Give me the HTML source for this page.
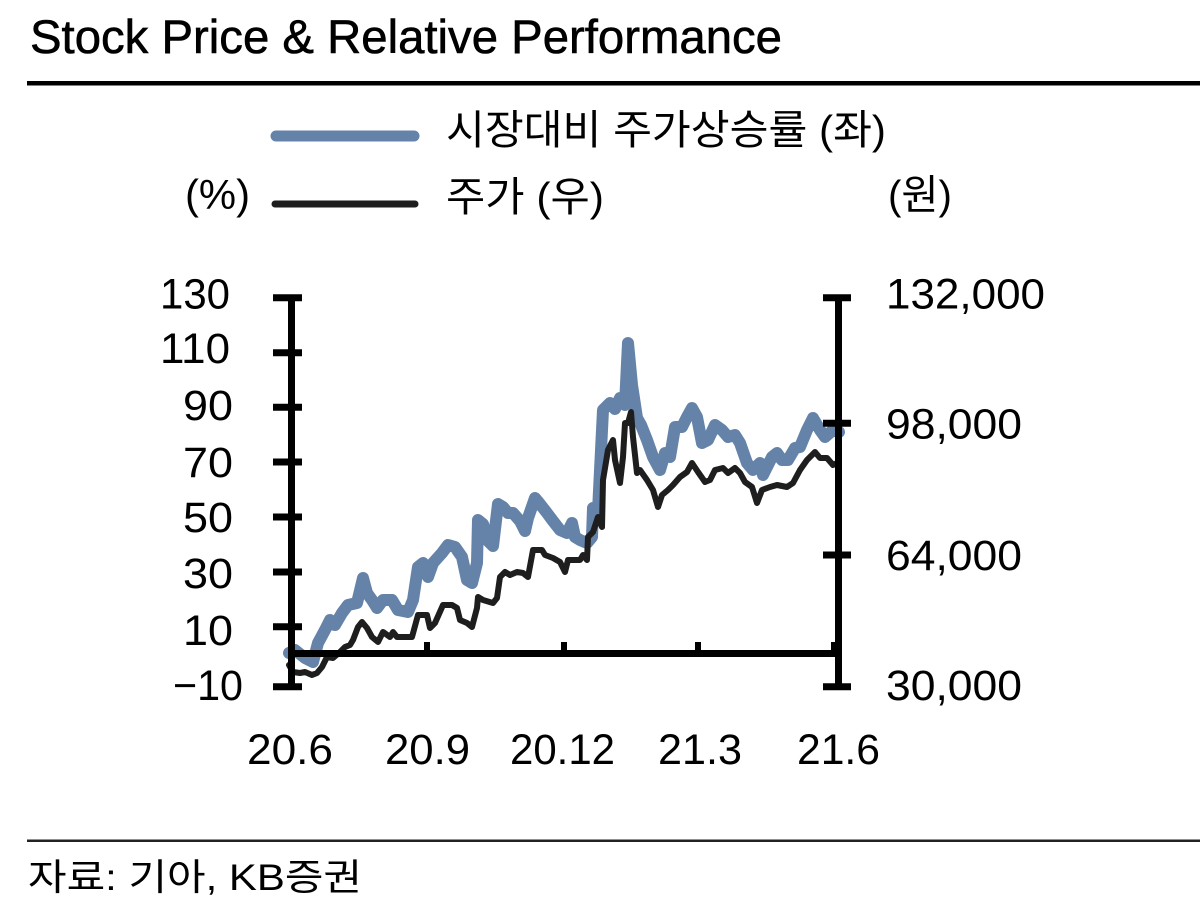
<!DOCTYPE html>
<html>
<head>
<meta charset="utf-8">
<style>
  html, body { margin:0; padding:0; background:#fff; }
  svg { display:block; }
  .t { font-family: "Liberation Sans", "Noto Sans CJK KR", "NanumGothic", sans-serif; fill:#000; }
</style>
</head>
<body>
<svg width="1200" height="920" viewBox="0 0 1200 920" xmlns="http://www.w3.org/2000/svg">
  <rect x="0" y="0" width="1200" height="920" fill="#fff"/>

  <!-- Title -->
  <text class="t" x="30" y="53" font-size="47" stroke="#000" stroke-width="0.6" textLength="752" lengthAdjust="spacingAndGlyphs">Stock Price &amp; Relative Performance</text>
  <rect x="27" y="81" width="1173" height="4.5" fill="#000"/>

  <!-- Legend -->
  <line x1="276" y1="136" x2="414" y2="136" stroke="#6583a8" stroke-width="11" stroke-linecap="round"/>
  <line x1="275" y1="204" x2="415" y2="204" stroke="#1e1e1e" stroke-width="7" stroke-linecap="round"/>
  <text class="t" x="446" y="144" font-size="41" textLength="440" lengthAdjust="spacingAndGlyphs">시장대비 주가상승률 (좌)</text>
  <text class="t" x="446" y="211" font-size="41" textLength="158" lengthAdjust="spacingAndGlyphs">주가 (우)</text>
  <text class="t" x="185" y="209" font-size="42" textLength="65" lengthAdjust="spacingAndGlyphs">(%)</text>
  <text class="t" x="888" y="209" font-size="41" textLength="64" lengthAdjust="spacingAndGlyphs">(원)</text>

  <!-- Left axis labels -->
  <g class="t" font-size="43">
    <text x="160" y="308.5" textLength="70" lengthAdjust="spacingAndGlyphs">130</text>
    <text x="160" y="363" textLength="70" lengthAdjust="spacingAndGlyphs">110</text>
    <text x="183" y="420" textLength="50" lengthAdjust="spacingAndGlyphs">90</text>
    <text x="183" y="477" textLength="50" lengthAdjust="spacingAndGlyphs">70</text>
    <text x="183" y="532" textLength="50" lengthAdjust="spacingAndGlyphs">50</text>
    <text x="183" y="588" textLength="50" lengthAdjust="spacingAndGlyphs">30</text>
    <text x="183" y="645" textLength="50" lengthAdjust="spacingAndGlyphs">10</text>
    <text x="173" y="700" textLength="70" lengthAdjust="spacingAndGlyphs">−10</text>
  </g>

  <!-- Right axis labels -->
  <g class="t" font-size="43">
    <text x="886" y="308.5" textLength="159" lengthAdjust="spacingAndGlyphs">132,000</text>
    <text x="886" y="438.5" textLength="136" lengthAdjust="spacingAndGlyphs">98,000</text>
    <text x="886" y="570" textLength="136" lengthAdjust="spacingAndGlyphs">64,000</text>
    <text x="886" y="700" textLength="136" lengthAdjust="spacingAndGlyphs">30,000</text>
  </g>

  <!-- X labels -->
  <g class="t" font-size="43">
    <text x="247" y="764" textLength="86" lengthAdjust="spacingAndGlyphs">20.6</text>
    <text x="385" y="764" textLength="85" lengthAdjust="spacingAndGlyphs">20.9</text>
    <text x="510" y="764" textLength="105" lengthAdjust="spacingAndGlyphs">20.12</text>
    <text x="658" y="764" textLength="84" lengthAdjust="spacingAndGlyphs">21.3</text>
    <text x="797" y="764" textLength="83" lengthAdjust="spacingAndGlyphs">21.6</text>
  </g>

  <!-- Series: relative performance (blue) -->
  <polyline fill="none" stroke="#6583a8" stroke-width="12" stroke-linejoin="round" stroke-linecap="round"
    points="289,653 295,650 300,654 305,658 313,662 318,643 325,630 330,620 335,625 342,613 348,605 357,603 363,578 367,593 372,600 377,608 383,600 392,600 398,610 408,612 413,600 418,567 423,563 428,577 433,563 442,553 448,545 455,547 462,557 467,580 472,583 477,563 478,520 483,524 488,541 493,546 498,504 503,507 508,513 513,513 520,521 525,531 528,518 535,498 540,504 547,513 553,521 560,530 567,533 572,523 575,537 580,540 587,543 592,537 593,508 598,511 603,410 610,403 615,409 620,398 625,405 628,343 632,385 637,418 641,425 647,440 653,457 660,470 665,453 670,457 675,427 682,427 687,417 692,408 697,417 702,443 708,440 715,425 722,430 728,437 735,435 740,443 747,463 753,470 760,463 763,475 772,457 777,453 782,460 788,460 795,448 800,447 807,430 813,418 820,430 825,437 833,430 839,432"/>

  <!-- Series: stock price (black) -->
  <polyline fill="none" stroke="#1e1e1e" stroke-width="6" stroke-linejoin="round" stroke-linecap="round"
    points="289,665 293,672 300,673 305,672 312,675 317,673 322,667 327,657 333,658 340,652 345,647 350,645 353,640 358,627 362,622 367,628 372,637 378,642 383,632 390,637 393,632 397,637 412,637 418,615 427,615 430,628 435,623 443,605 452,605 457,608 460,620 467,623 472,627 477,608 478,597 483,600 493,603 497,598 500,577 505,572 510,575 517,572 523,573 528,577 533,550 542,550 545,555 553,558 560,562 565,572 568,560 580,560 583,555 587,560 588,537 593,532 598,517 602,527 603,480 608,450 613,440 615,460 620,483 623,457 625,423 628,423 631,412 633,437 637,473 640,470 647,480 653,490 658,507 662,495 668,490 673,485 680,477 687,472 692,463 698,472 705,482 710,480 715,470 723,468 728,473 735,468 740,473 745,482 752,487 757,503 762,490 770,487 777,485 787,487 793,483 800,470 807,460 815,452 820,458 827,458 833,465 837,463"/>

  <!-- Axes -->
  <g stroke="#000" fill="none">
    <line x1="291.5" y1="294.5" x2="291.5" y2="690" stroke-width="7"/>
    <line x1="838.5" y1="294.5" x2="838.5" y2="690" stroke-width="7"/>
    <line x1="288" y1="653.5" x2="842" y2="653.5" stroke-width="7"/>
    <!-- left ticks -->
    <line x1="273" y1="297.7" x2="302" y2="297.7" stroke-width="7"/>
    <line x1="273" y1="352.7" x2="302" y2="352.7" stroke-width="7"/>
    <line x1="273" y1="407.3" x2="302" y2="407.3" stroke-width="7"/>
    <line x1="273" y1="462" x2="302" y2="462" stroke-width="7"/>
    <line x1="273" y1="517" x2="302" y2="517" stroke-width="7"/>
    <line x1="273" y1="572" x2="302" y2="572" stroke-width="7"/>
    <line x1="273" y1="626.7" x2="302" y2="626.7" stroke-width="7"/>
    <line x1="273" y1="686.7" x2="302" y2="686.7" stroke-width="7"/>
    <!-- right ticks -->
    <line x1="823" y1="297.7" x2="851" y2="297.7" stroke-width="7"/>
    <line x1="823" y1="423.3" x2="851" y2="423.3" stroke-width="7"/>
    <line x1="823" y1="555" x2="851" y2="555" stroke-width="7"/>
    <line x1="823" y1="686.7" x2="851" y2="686.7" stroke-width="7"/>
    <!-- x ticks -->
    <line x1="427" y1="642" x2="427" y2="654" stroke-width="6"/>
    <line x1="564" y1="642" x2="564" y2="654" stroke-width="6"/>
    <line x1="698" y1="642" x2="698" y2="654" stroke-width="6"/>
    <line x1="834" y1="642" x2="834" y2="654" stroke-width="6"/>
  </g>

  <!-- Source -->
  <rect x="27" y="839.5" width="1173" height="2.5" fill="#222"/>
  <text class="t" x="28" y="890" font-size="37" textLength="334" lengthAdjust="spacingAndGlyphs">자료: 기아, KB증권</text>
</svg>
</body>
</html>
